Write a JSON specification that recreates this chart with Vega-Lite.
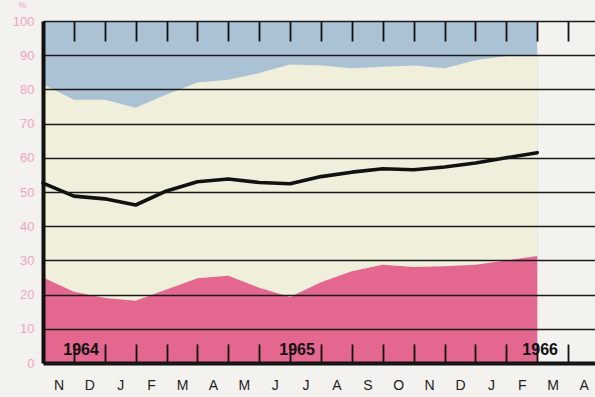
{
  "$schema": "https://vega.github.io/schema/vega-lite/v6.json",
  "width": 552,
  "height": 342,
  "autosize": {"type": "none"},
  "padding": {"left": 43, "top": 21, "right": 0, "bottom": 34},
  "background": "#f3f2ee",
  "config": {
    "view": {"stroke": null},
    "font": "Liberation Sans",
    "axisY": {
      "tickCount": 10,
      "grid": false,
      "ticks": true,
      "tickSize": -552,
      "tickColor": "#1a1a1a",
      "tickWidth": 1.6,
      "domain": true,
      "domainColor": "#111111",
      "domainWidth": 4,
      "labelColor": "#f2a3bf",
      "labelFontSize": 13,
      "labelPadding": 561,
      "titleAngle": 0,
      "titleColor": "#f2a3bf",
      "titleFontSize": 9,
      "titleFontWeight": "normal",
      "titleX": -21,
      "titleY": -12,
      "titleAlign": "center",
      "labelFlush": false
    }
  },
  "datasets": {
    "series": [
      {"m": 0, "line": 52.6, "top": 81.5, "pink": 25.0},
      {"m": 1, "line": 48.8, "top": 77.0, "pink": 20.8},
      {"m": 2, "line": 48.0, "top": 77.0, "pink": 19.0},
      {"m": 3, "line": 46.2, "top": 74.6, "pink": 18.2},
      {"m": 4, "line": 50.3, "top": 78.5, "pink": 21.5},
      {"m": 5, "line": 53.0, "top": 82.0, "pink": 24.8},
      {"m": 6, "line": 53.8, "top": 82.8, "pink": 25.5},
      {"m": 7, "line": 52.8, "top": 84.8, "pink": 22.0},
      {"m": 8, "line": 52.4, "top": 87.3, "pink": 19.3},
      {"m": 9, "line": 54.5, "top": 87.0, "pink": 23.6},
      {"m": 10, "line": 55.8, "top": 86.2, "pink": 26.8},
      {"m": 11, "line": 56.8, "top": 86.6, "pink": 28.7},
      {"m": 12, "line": 56.5, "top": 87.0, "pink": 28.1},
      {"m": 13, "line": 57.3, "top": 86.2, "pink": 28.3},
      {"m": 14, "line": 58.5, "top": 88.5, "pink": 28.7},
      {"m": 15, "line": 60.0, "top": 89.8, "pink": 30.0},
      {"m": 16, "line": 61.5, "top": 90.0, "pink": 31.3}
    ],
    "years": [
      {"yr": "1964", "m": 1.81, "v": 2.4},
      {"yr": "1965", "m": 8.8, "v": 2.4},
      {"yr": "1966", "m": 16.67, "v": 2.4}
    ]
  },
  "resolve": {"axis": {"x": "independent"}},
  "layer": [
    {
      "data": {"name": "series"},
      "mark": {"type": "area", "color": "#abc1d4", "opacity": 1},
      "encoding": {
        "x": {
          "field": "m", "type": "quantitative",
          "scale": {"domain": [0, 17.87], "nice": false, "zero": false},
          "axis": {
            "orient": "bottom",
            "zindex": 1,
            "title": null,
            "values": [0.5, 1, 1.5, 2, 2.5, 3, 3.5, 4, 4.5, 5, 5.5, 6, 6.5, 7, 7.5, 8, 8.5, 9, 9.5, 10, 10.5, 11, 11.5, 12, 12.5, 13, 13.5, 14, 14.5, 15, 15.5, 16, 16.5, 17, 17.5],
            "labelExpr": "datum.value % 1 == 0 ? '' : substring('NDJFMAMJJASONDJFMA', floor(datum.value), floor(datum.value) + 1)",
            "grid": false,
            "domain": true,
            "domainColor": "#111111",
            "domainWidth": 4,
            "ticks": true,
            "tickSize": -19,
            "tickColor": "#111111",
            "tickWidth": 1.8,
            "tickOpacity": {"condition": {"test": "datum.value % 1 != 0", "value": 0}, "value": 1},
            "labelFontSize": 14,
            "labelColor": "#222222",
            "labelPadding": 34,
            "labelFlush": false,
            "labelOverlap": false
          }
        },
        "y": {"datum": 100, "type": "quantitative", "title": "%", "scale": {"domain": [0, 100], "nice": false}, "axis": {"zindex": 1}},
        "y2": {"datum": 0}
      }
    },
    {
      "data": {"name": "series"},
      "mark": {"type": "area", "color": "#f0efdc", "opacity": 1},
      "encoding": {
        "x": {"field": "m", "type": "quantitative", "axis": null},
        "y": {"field": "top", "type": "quantitative", "title": "%", "axis": {"zindex": 1}},
        "y2": {"datum": 0}
      }
    },
    {
      "data": {"name": "series"},
      "mark": {"type": "area", "color": "#e4678f", "opacity": 1},
      "encoding": {
        "x": {"field": "m", "type": "quantitative", "axis": null},
        "y": {"field": "pink", "type": "quantitative", "title": "%", "axis": {"zindex": 1}},
        "y2": {"datum": 0}
      }
    },
    {
      "data": {"name": "series"},
      "mark": {"type": "line", "color": "#111111", "strokeWidth": 3.6, "strokeCap": "round", "strokeJoin": "round"},
      "encoding": {
        "x": {
          "field": "m", "type": "quantitative",
          "axis": {
            "orient": "top",
            "zindex": 1,
            "title": null,
            "values": [1, 2, 3, 4, 5, 6, 7, 8, 9, 10, 11, 12, 13, 14, 15, 16, 17],
            "labels": false,
            "domain": false,
            "grid": false,
            "ticks": true,
            "tickSize": -20,
            "tickColor": "#111111",
            "tickWidth": 1.8
          }
        },
        "y": {"field": "line", "type": "quantitative", "title": "%", "axis": {"zindex": 1}}
      }
    },
    {
      "data": {"name": "years"},
      "mark": {"type": "text", "align": "right", "baseline": "alphabetic", "fontSize": 16, "fontWeight": "bold", "color": "#111111"},
      "encoding": {
        "x": {"field": "m", "type": "quantitative", "axis": null},
        "y": {"field": "v", "type": "quantitative", "title": "%", "axis": {"zindex": 1}},
        "text": {"field": "yr"}
      }
    }
  ]
}
